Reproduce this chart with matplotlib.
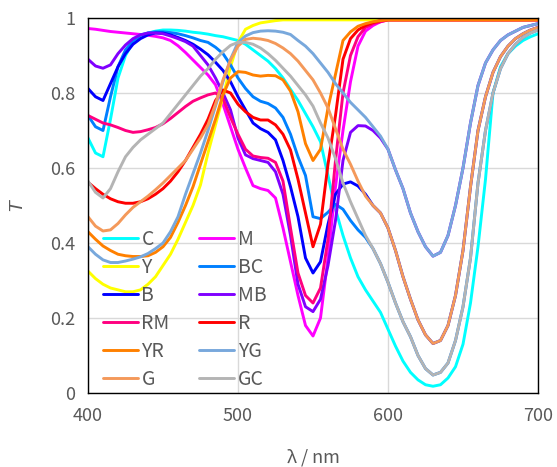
import numpy as np
import matplotlib
matplotlib.use("Agg")
import matplotlib.pyplot as plt
from matplotlib.ticker import FixedLocator, FixedFormatter

plt.rcParams['font.family'] = ['Noto Sans CJK JP', 'DejaVu Sans']

wavelength = list(range(400, 701, 5))

C = [0.68, 0.64, 0.63, 0.73, 0.84, 0.90, 0.935, 0.95, 0.96, 0.965,
     0.968, 0.968, 0.967, 0.965, 0.962, 0.96, 0.957, 0.953, 0.95, 0.945,
     0.94, 0.93, 0.915, 0.90, 0.885, 0.865, 0.84, 0.81, 0.78, 0.745,
     0.71, 0.67, 0.58, 0.49, 0.42, 0.36, 0.31, 0.275, 0.245, 0.215,
     0.17, 0.125, 0.085, 0.055, 0.035, 0.022, 0.018, 0.022, 0.04, 0.07,
     0.13, 0.24, 0.39, 0.57, 0.80, 0.87, 0.905, 0.925, 0.94, 0.95, 0.958]

Y = [0.325, 0.305, 0.29, 0.28, 0.275, 0.27, 0.27, 0.275, 0.29, 0.31,
     0.34, 0.37, 0.41, 0.455, 0.50, 0.555, 0.64, 0.715, 0.79, 0.87,
     0.935, 0.97, 0.98, 0.987, 0.99, 0.993, 0.995, 0.995, 0.995, 0.995,
     0.995, 0.995, 0.995, 0.995, 0.995, 0.995, 0.995, 0.995, 0.995, 0.995,
     0.995, 0.995, 0.995, 0.995, 0.995, 0.995, 0.995, 0.995, 0.995, 0.995,
     0.995, 0.995, 0.995, 0.995, 0.995, 0.995, 0.995, 0.995, 0.995, 0.995, 0.995]

B = [0.812, 0.79, 0.78, 0.825, 0.87, 0.905, 0.93, 0.945, 0.955, 0.96,
     0.96, 0.955, 0.948, 0.94, 0.93, 0.917, 0.902, 0.882, 0.86, 0.83,
     0.79, 0.755, 0.72, 0.705, 0.695, 0.675, 0.62, 0.55, 0.47, 0.36,
     0.32, 0.35, 0.45, 0.53, 0.557, 0.563, 0.552, 0.53, 0.50, 0.48,
     0.44, 0.38, 0.31, 0.25, 0.195, 0.155, 0.132, 0.14, 0.18, 0.26,
     0.38, 0.55, 0.70, 0.79, 0.855, 0.897, 0.925, 0.945, 0.958, 0.968, 0.975]

G = [0.47, 0.445, 0.432, 0.435, 0.452, 0.475, 0.495, 0.51, 0.525, 0.542,
     0.56, 0.58, 0.60, 0.62, 0.65, 0.68, 0.715, 0.77, 0.835, 0.888,
     0.925, 0.943, 0.946, 0.944, 0.94, 0.932, 0.92, 0.905, 0.885, 0.86,
     0.835, 0.80, 0.76, 0.705, 0.65, 0.61, 0.565, 0.525, 0.50, 0.48,
     0.44, 0.38, 0.31, 0.25, 0.195, 0.155, 0.132, 0.14, 0.18, 0.26,
     0.38, 0.55, 0.70, 0.79, 0.855, 0.897, 0.925, 0.945, 0.958, 0.968, 0.975]

M = [0.972, 0.97, 0.967, 0.964, 0.962, 0.96, 0.958, 0.956, 0.954, 0.951,
     0.947, 0.94, 0.926, 0.908, 0.888, 0.868, 0.848, 0.822, 0.77, 0.71,
     0.65, 0.60, 0.553, 0.545, 0.54, 0.52, 0.44, 0.35, 0.26, 0.18,
     0.152, 0.20, 0.36, 0.55, 0.70, 0.83, 0.925, 0.965, 0.98, 0.99,
     0.995, 0.995, 0.995, 0.995, 0.995, 0.995, 0.995, 0.995, 0.995, 0.995,
     0.995, 0.995, 0.995, 0.995, 0.995, 0.995, 0.995, 0.995, 0.995, 0.995, 0.995]

RM = [0.74, 0.73, 0.72, 0.715, 0.708, 0.70, 0.695, 0.697, 0.702, 0.708,
      0.718, 0.732, 0.748, 0.764, 0.778, 0.787, 0.795, 0.80, 0.785, 0.735,
      0.69, 0.65, 0.632, 0.628, 0.626, 0.615, 0.565, 0.44, 0.32, 0.26,
      0.24, 0.28, 0.41, 0.62, 0.80, 0.90, 0.95, 0.975, 0.985, 0.99,
      0.995, 0.995, 0.995, 0.995, 0.995, 0.995, 0.995, 0.995, 0.995, 0.995,
      0.995, 0.995, 0.995, 0.995, 0.995, 0.995, 0.995, 0.995, 0.995, 0.995, 0.995]

R = [0.562, 0.545, 0.53, 0.518, 0.51, 0.506, 0.506, 0.51, 0.518, 0.53,
     0.545, 0.565, 0.59, 0.62, 0.655, 0.69, 0.73, 0.78, 0.808, 0.80,
     0.77, 0.75, 0.735, 0.728, 0.728, 0.715, 0.69, 0.648, 0.57, 0.48,
     0.39, 0.45, 0.61, 0.74, 0.89, 0.945, 0.968, 0.98, 0.988, 0.993,
     0.995, 0.995, 0.995, 0.995, 0.995, 0.995, 0.995, 0.995, 0.995, 0.995,
     0.995, 0.995, 0.995, 0.995, 0.995, 0.995, 0.995, 0.995, 0.995, 0.995, 0.995]

YR = [0.43, 0.41, 0.392, 0.38, 0.37, 0.366, 0.364, 0.364, 0.366, 0.375,
      0.39, 0.415, 0.455, 0.50, 0.55, 0.61, 0.67, 0.73, 0.795, 0.84,
      0.857, 0.855, 0.848, 0.845, 0.847, 0.846, 0.835, 0.805, 0.75, 0.665,
      0.62, 0.65, 0.76, 0.85, 0.94, 0.963, 0.978, 0.985, 0.99, 0.993,
      0.995, 0.995, 0.995, 0.995, 0.995, 0.995, 0.995, 0.995, 0.995, 0.995,
      0.995, 0.995, 0.995, 0.995, 0.995, 0.995, 0.995, 0.995, 0.995, 0.995, 0.995]

BC = [0.74, 0.71, 0.70, 0.79, 0.87, 0.915, 0.94, 0.955, 0.96, 0.963,
      0.963, 0.961, 0.958, 0.953, 0.947, 0.94, 0.935, 0.922, 0.905, 0.875,
      0.84, 0.812, 0.79, 0.778, 0.772, 0.76, 0.735, 0.69, 0.63, 0.58,
      0.47, 0.465, 0.482, 0.503, 0.49, 0.46, 0.435, 0.415, 0.385, 0.345,
      0.295, 0.24, 0.19, 0.15, 0.10, 0.065, 0.048, 0.055, 0.08, 0.14,
      0.23, 0.36, 0.56, 0.70, 0.80, 0.865, 0.905, 0.93, 0.948, 0.96, 0.968]

GC = [0.565, 0.535, 0.52, 0.545, 0.59, 0.63, 0.655, 0.675, 0.69, 0.705,
      0.72, 0.745, 0.77, 0.795, 0.82, 0.845, 0.865, 0.89, 0.91, 0.927,
      0.935, 0.935, 0.93, 0.92, 0.905, 0.887, 0.866, 0.845, 0.82, 0.795,
      0.765, 0.72, 0.68, 0.625, 0.56, 0.51, 0.465, 0.42, 0.385, 0.345,
      0.295, 0.24, 0.19, 0.15, 0.10, 0.065, 0.048, 0.055, 0.08, 0.14,
      0.23, 0.36, 0.56, 0.70, 0.80, 0.865, 0.905, 0.93, 0.948, 0.96, 0.968]

MB = [0.89, 0.872, 0.866, 0.875, 0.905, 0.928, 0.945, 0.955, 0.96, 0.96,
      0.958, 0.952, 0.945, 0.937, 0.925, 0.90, 0.875, 0.84, 0.80, 0.755,
      0.68, 0.635, 0.625, 0.62, 0.615, 0.59, 0.53, 0.42, 0.29, 0.23,
      0.217, 0.25, 0.34, 0.46, 0.62, 0.695, 0.713, 0.712, 0.70, 0.68,
      0.65, 0.595, 0.545, 0.48, 0.43, 0.39, 0.365, 0.375, 0.42, 0.50,
      0.60, 0.72, 0.82, 0.88, 0.915, 0.94, 0.955, 0.965, 0.975, 0.98, 0.985]

YG = [0.39, 0.37, 0.355, 0.348, 0.348, 0.352, 0.357, 0.363, 0.372, 0.385,
      0.40, 0.43, 0.47, 0.53, 0.585, 0.64, 0.70, 0.765, 0.83, 0.89,
      0.935, 0.952, 0.961, 0.965, 0.966, 0.965, 0.962, 0.956, 0.94, 0.925,
      0.905, 0.88, 0.855, 0.825, 0.80, 0.775, 0.755, 0.735, 0.71, 0.685,
      0.65, 0.595, 0.545, 0.48, 0.43, 0.39, 0.365, 0.375, 0.42, 0.50,
      0.60, 0.72, 0.82, 0.88, 0.915, 0.94, 0.955, 0.965, 0.975, 0.98, 0.985]

# plotting order (as in the original source)
series = [
    ("C", C, "#00ffff"),
    ("M", M, "#ff00ff"),
    ("Y", Y, "#ffff00"),
    ("BC", BC, "#0080ff"),
    ("B", B, "#0000ff"),
    ("MB", MB, "#8000ff"),
    ("RM", RM, "#ff0080"),
    ("R", R, "#ff0000"),
    ("YR", YR, "#ff8000"),
    ("YG", YG, "#78a8dc"),
    ("G", G, "#f4995a"),
    ("GC", GC, "#b4b4b4"),
]

fig = plt.figure(figsize=(5.57, 4.67), dpi=100)
ax = fig.add_axes([88/557, 74/467, 450/557, 375/467])

handles = {}
for name, vals, col in series:
    ln, = ax.plot(wavelength, vals, color=col, lw=2.1, label=name,
                  solid_joinstyle='round', solid_capstyle='round')
    handles[name] = ln

ax.set_xlim(400, 700)
ax.set_ylim(0, 1)
ax.xaxis.set_major_locator(FixedLocator([400, 500, 600, 700]))
ax.yaxis.set_major_locator(FixedLocator([0, 0.2, 0.4, 0.6, 0.8, 1.0]))
ax.yaxis.set_major_formatter(FixedFormatter(["0", "0.2", "0.4", "0.6", "0.8", "1"]))
ax.grid(True, color="#d9d9d9", lw=1.0)
ax.set_axisbelow(True)
ax.tick_params(length=0, labelsize=13, labelcolor="#595959")
ax.tick_params(axis='x', pad=10)
ax.tick_params(axis='y', pad=9)
for s in ax.spines.values():
    s.set_color("black")
    s.set_linewidth(1.0)

ax.set_xlabel("λ / nm", fontsize=13, color="#595959", labelpad=17)
ax.set_ylabel("T", fontsize=14, color="#595959", style="italic",
              family=["Liberation Sans", "DejaVu Sans"], labelpad=18)

order = ["C", "Y", "B", "RM", "YR", "G", "M", "BC", "MB", "R", "YG", "GC"]
leg = ax.legend([handles[n] for n in order], order, ncol=2, loc="lower left",
                bbox_to_anchor=(0.015, -0.012), frameon=False, fontsize=14,
                handlelength=1.8, handletextpad=0.2, columnspacing=1.5,
                labelspacing=0.355, borderaxespad=0)
for t in leg.get_texts():
    t.set_color("#595959")

fig.savefig("out.png", dpi=100)
